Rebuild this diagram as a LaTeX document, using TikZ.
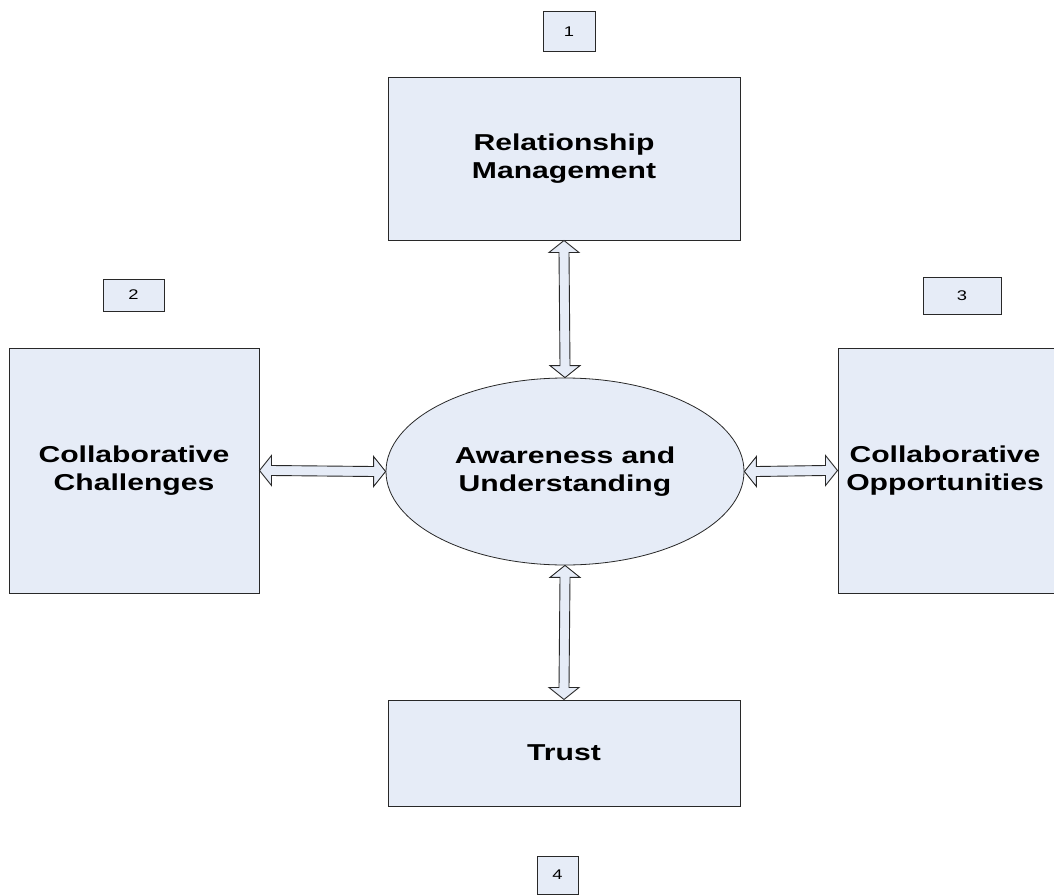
\documentclass[tikz,border=0pt]{standalone}
\usepackage{fontspec}
\usepackage{graphicx}
\setmainfont{Liberation Sans}
\usetikzlibrary{calc,shapes.geometric}
\definecolor{boxfill}{RGB}{230,236,247}
\definecolor{edge}{RGB}{40,40,40}
\newcommand\wide[1]{\scalebox{1.31}[1]{#1}}
\tikzset{
  boxtext/.style={align=center,font=\bfseries\fontsize{23}{28}\selectfont,inner sep=0pt},
  bigbox/.style={boxtext,draw=edge,line width=1pt,fill=boxfill},
  numbox/.style={draw=edge,line width=1pt,fill=boxfill,font=\fontsize{14}{16}\selectfont,inner sep=0pt},
  oval/.style={ellipse,draw=edge,line width=0.8pt,fill=boxfill,align=center,font=\bfseries\fontsize{23}{28}\selectfont,inner sep=0pt},
  blockarr/.style={draw=edge,line width=0.9pt,fill=boxfill,line join=miter}
}
\newcommand\varrowblk[2]{%
  \draw[blockarr] (#1) -- ($(#1)+(15,12)$) -- ($(#1)+(5,12)$) -- ($(#2)+(5,-12)$) -- ($(#2)+(15,-12)$) -- (#2)
   -- ($(#2)+(-15,-12)$) -- ($(#2)+(-5,-12)$) -- ($(#1)+(-5,12)$) -- ($(#1)+(-15,12)$) -- cycle;}
\newcommand\harrowblk[2]{%
  \draw[blockarr] (#1) -- ($(#1)+(12,-15)$) -- ($(#1)+(12,-5)$) -- ($(#2)+(-12,-5)$) -- ($(#2)+(-12,-15)$) -- (#2)
   -- ($(#2)+(-12,15)$) -- ($(#2)+(-12,5)$) -- ($(#1)+(12,5)$) -- ($(#1)+(12,15)$) -- cycle;}
\begin{document}
\begin{tikzpicture}[x=1pt,y=-1pt]
\useasboundingbox (0,0) rectangle (1054,896);
\clip (0,0) rectangle (1054,896);
\fill[white] (0,0) rectangle (1054,896);
% number boxes
\node[numbox,minimum width=52pt,minimum height=40pt] (n1) at (569,32) {\wide{1}};
\node[numbox,minimum width=61pt,minimum height=32pt] (n2) at (133.5,295) {\wide{2}};
\node[numbox,minimum width=78pt,minimum height=37pt] (n3) at (962,296) {\wide{3}};
\node[numbox,minimum width=41pt,minimum height=38pt] (n4) at (557.5,875) {\wide{4}};
% main boxes
\node[bigbox,minimum width=352pt,minimum height=162pt] (rm) at (564,159) {\wide{Relationship}\\\wide{Management}};
\node[bigbox,minimum width=250pt,minimum height=245pt] (cc) at (134,470.5) {\wide{Collaborative}\\\wide{Challenges}};
\node[bigbox,minimum width=250pt,minimum height=245pt] (co) at (963,470.5) {};
\node[boxtext] (cot) at (945,470.5) {\wide{Collaborative}\\\wide{Opportunities}};
\node[bigbox,minimum width=352pt,minimum height=106pt] (tr) at (564,753) {\wide{Trust}};
\node[oval,minimum width=358pt,minimum height=187pt] (au) at (565,471.5) {\wide{Awareness and}\\\wide{Understanding}};
% connectors
\varrowblk{rm.south}{au.north}
\varrowblk{au.south}{tr.north}
\harrowblk{cc.east}{au.west}
\harrowblk{au.east}{co.west}
\end{tikzpicture}
\end{document}
